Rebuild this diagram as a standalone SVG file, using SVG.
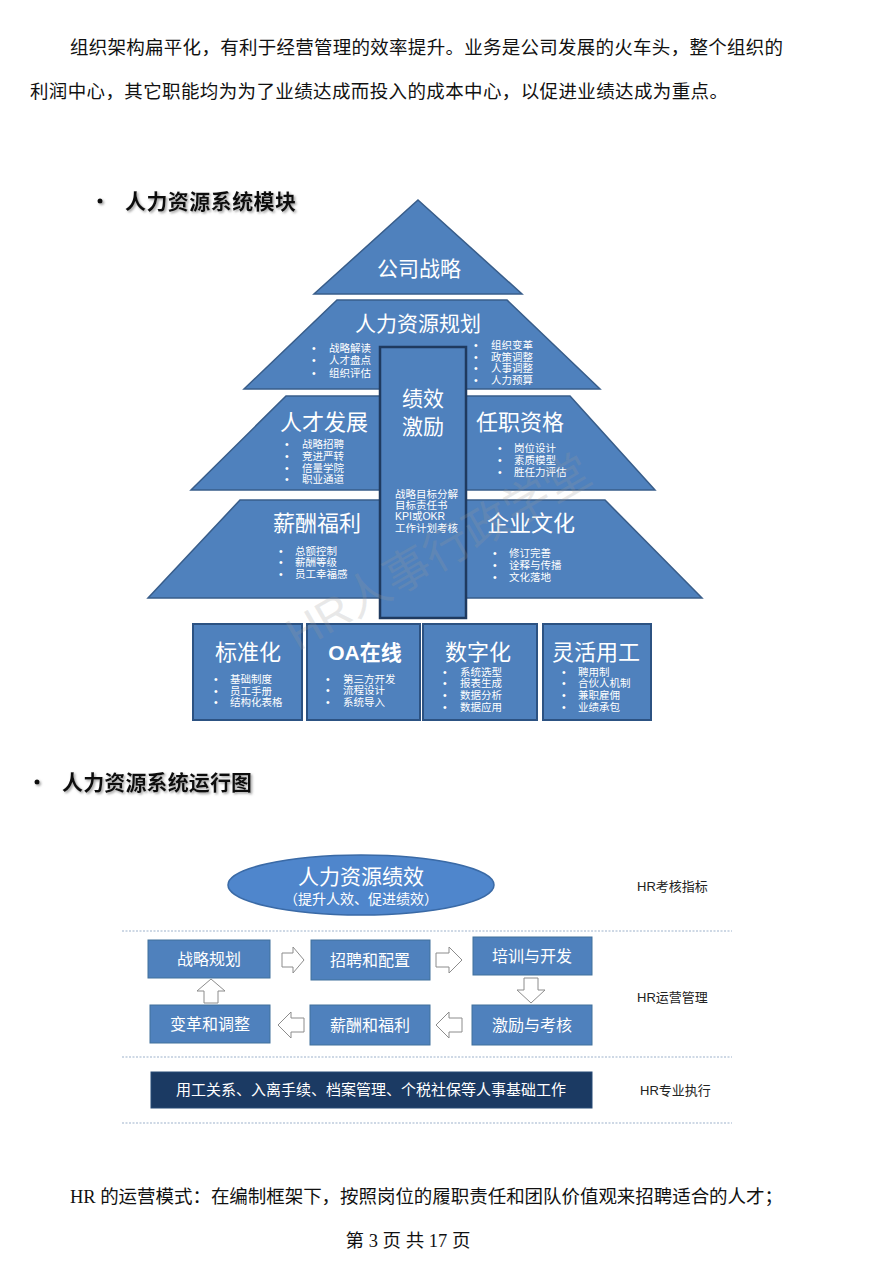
<svg xmlns="http://www.w3.org/2000/svg" width="895" height="1265" viewBox="0 0 895 1265">
<defs>
<style>
.body{font-family:"Liberation Serif","Noto Sans CJK SC",serif;font-size:18.5px;fill:#111}
.h{font-family:"Liberation Sans","Noto Sans CJK SC",sans-serif;font-size:21px;font-weight:bold;fill:#111}
.py{fill:#4F81BD;stroke:#385D8A;stroke-width:1.5}
.t{font-family:"Liberation Sans","Noto Sans CJK SC",sans-serif;fill:#fff;text-anchor:middle}
.big{font-size:21px}
.sm{font-family:"Liberation Sans","Noto Sans CJK SC",sans-serif;font-size:10.5px;fill:#fff}
.box{fill:#4F81BD;stroke:#2C5282;stroke-width:2}
.fb{fill:#4F81BD;stroke:#41719C;stroke-width:1}
.ft{font-family:"Liberation Sans","Noto Sans CJK SC",sans-serif;font-size:16px;fill:#fff;text-anchor:middle}
.ba{fill:#fff;stroke:#8C8C8C;stroke-width:1}
.lbl{font-family:"Liberation Sans","Noto Sans CJK SC",sans-serif;font-size:13px;fill:#222}
.dl{stroke:#9DB2CC;stroke-width:1.2;stroke-dasharray:2 1.5}
</style>
<filter id="sh" x="-10%" y="-30%" width="130%" height="180%">
<feDropShadow dx="1.5" dy="1.5" stdDeviation="1" flood-color="#888" flood-opacity="0.8"/>
</filter>
</defs>
<rect width="895" height="1265" fill="#fff"/>

<text class="body" x="70" y="54" textLength="713">组织架构扁平化，有利于经营管理的效率提升。业务是公司发展的火车头，整个组织的</text>
<text class="body" x="30" y="98" textLength="698">利润中心，其它职能均为为了业绩达成而投入的成本中心，以促进业绩达成为重点。</text>

<g id="heading1" filter="url(#sh)">
<circle cx="100" cy="201" r="2.5" fill="#111"/>
<text class="h" x="125" y="209" textLength="171">人力资源系统模块</text>
</g>

<g id="pyramid">
<polygon id="top" class="py" points="418,200 522,294 314,294"/>
<polygon id="layer2" class="py" points="337,300 507,300 600,389 244,389"/>
<polygon id="layer3" class="py" points="286,396 570,396 655,490 191,490"/>
<polygon id="layer4" class="py" points="240,500 605,500 702,598 148,598"/>
</g>

<g id="n-strategy"><text class="t big" x="419" y="276" font-size="20">公司战略</text></g>

<g id="n-plan">
<text class="t big" x="418" y="331">人力资源规划</text>
<g class="sm">
<text x="312" y="352">•</text><text x="329" y="352">战略解读</text>
<text x="312" y="364">•</text><text x="329" y="364">人才盘点</text>
<text x="312" y="377">•</text><text x="329" y="377">组织评估</text>
<text x="474" y="349">•</text><text x="491" y="349">组织变革</text>
<text x="474" y="361">•</text><text x="491" y="361">政策调整</text>
<text x="474" y="372">•</text><text x="491" y="372">人事调整</text>
<text x="474" y="384">•</text><text x="491" y="384">人力预算</text>
</g>
</g>

<g id="n-talent">
<text class="t" x="324" y="430" font-size="22">人才发展</text>
<g class="sm">
<text x="285" y="448">•</text><text x="302" y="448">战略招聘</text>
<text x="285" y="460">•</text><text x="302" y="460">竞进严转</text>
<text x="285" y="472">•</text><text x="302" y="472">倍量学院</text>
<text x="285" y="483">•</text><text x="302" y="483">职业通道</text>
</g>
</g>

<g id="n-qual">
<text class="t" x="520" y="430" font-size="22">任职资格</text>
<g class="sm">
<text x="498" y="452">•</text><text x="514" y="452">岗位设计</text>
<text x="498" y="464">•</text><text x="514" y="464">素质模型</text>
<text x="498" y="476">•</text><text x="514" y="476">胜任力评估</text>
</g>
</g>

<g id="n-pay">
<text class="t" x="317" y="531" font-size="22">薪酬福利</text>
<g class="sm">
<text x="279" y="555">•</text><text x="295" y="555">总额控制</text>
<text x="279" y="566">•</text><text x="295" y="566">薪酬等级</text>
<text x="279" y="578">•</text><text x="295" y="578">员工幸福感</text>
</g>
</g>

<g id="n-culture">
<text class="t" x="531" y="531" font-size="22">企业文化</text>
<g class="sm">
<text x="493" y="557">•</text><text x="509" y="557">修订完善</text>
<text x="493" y="569">•</text><text x="509" y="569">诠释与传播</text>
<text x="493" y="581">•</text><text x="509" y="581">文化落地</text>
</g>
</g>

<g id="n-perf">
<rect x="380" y="347" width="86" height="271" fill="#4F81BD" stroke="#1F3A5F" stroke-width="2.5"/>
<text class="t" x="423" y="406" font-size="21">绩效</text>
<text class="t" x="423" y="434" font-size="21">激励</text>
<g class="sm" font-size="10">
<text x="395" y="498">战略目标分解</text>
<text x="395" y="509">目标责任书</text>
<text x="395" y="520">KPI或OKR</text>
<text x="395" y="532">工作计划考核</text>
</g>
</g>

<g id="n-std">
<rect class="box" x="193" y="624" width="109" height="96"/>
<text class="t" x="248" y="660" font-size="22">标准化</text>
<g class="sm">
<text x="214" y="683">•</text><text x="230" y="683">基础制度</text>
<text x="214" y="695">•</text><text x="230" y="695">员工手册</text>
<text x="214" y="706">•</text><text x="230" y="706">结构化表格</text>
</g>
</g>
<g id="n-oa">
<rect class="box" x="307" y="624" width="113" height="96"/>
<text class="t" x="365" y="660" font-size="21" font-weight="bold">OA在线</text>
<g class="sm">
<text x="326" y="683">•</text><text x="343" y="683">第三方开发</text>
<text x="326" y="694">•</text><text x="343" y="694">流程设计</text>
<text x="326" y="706">•</text><text x="343" y="706">系统导入</text>
</g>
</g>
<g id="n-digital">
<rect class="box" x="423" y="624" width="114" height="96"/>
<text class="t" x="478" y="660" font-size="22">数字化</text>
<g class="sm">
<text x="443" y="676">•</text><text x="460" y="676">系统选型</text>
<text x="443" y="687">•</text><text x="460" y="687">报表生成</text>
<text x="443" y="699">•</text><text x="460" y="699">数据分析</text>
<text x="443" y="711">•</text><text x="460" y="711">数据应用</text>
</g>
</g>
<g id="n-flex">
<rect class="box" x="543" y="624" width="108" height="96"/>
<text class="t" x="596" y="660" font-size="22">灵活用工</text>
<g class="sm">
<text x="562" y="676">•</text><text x="578" y="676">聘用制</text>
<text x="562" y="687">•</text><text x="578" y="687">合伙人机制</text>
<text x="562" y="699">•</text><text x="578" y="699">兼职雇佣</text>
<text x="562" y="711">•</text><text x="578" y="711">业绩承包</text>
</g>
</g>

<text font-family="Liberation Sans,Noto Sans CJK SC,sans-serif" font-size="46" fill="#9a9a9a" fill-opacity="0.22" transform="translate(298,652) rotate(-30)">HR人事行政学堂</text>

<g id="heading2" filter="url(#sh)">
<circle cx="37" cy="782" r="2.5" fill="#111"/>
<text class="h" x="62" y="790" textLength="190">人力资源系统运行图</text>
</g>

<g id="n-hrperf">
<ellipse cx="361" cy="885" rx="133" ry="30" fill="#4F86CC" stroke="#3A6AA6" stroke-width="1.5"/>
<text class="t" x="361" y="884" font-size="21">人力资源绩效</text>
<text class="t" x="361" y="904" font-size="14">（提升人效、促进绩效）</text>
</g>
<text class="lbl" x="637" y="891">HR考核指标</text>
<text class="lbl" x="637" y="1002">HR运营管理</text>
<text class="lbl" x="640" y="1095">HR专业执行</text>

<g id="separators">
<line class="dl" x1="122" y1="931" x2="732" y2="931"/>
<line class="dl" x1="122" y1="1057" x2="732" y2="1057"/>
<line class="dl" x1="122" y1="1123" x2="732" y2="1123"/>
</g>

<g id="n-f1"><rect class="fb" x="148" y="940" width="122" height="38"/><text class="ft" x="209" y="965">战略规划</text></g>
<g id="n-f2"><rect class="fb" x="311" y="940" width="119" height="40"/><text class="ft" x="370" y="966">招聘和配置</text></g>
<g id="n-f3"><rect class="fb" x="473" y="937" width="119" height="38"/><text class="ft" x="532" y="962">培训与开发</text></g>
<g id="n-f4"><rect class="fb" x="472" y="1005" width="120" height="40"/><text class="ft" x="532" y="1031">激励与考核</text></g>
<g id="n-f5"><rect class="fb" x="310" y="1005" width="120" height="40"/><text class="ft" x="370" y="1031">薪酬和福利</text></g>
<g id="n-f6"><rect class="fb" x="150" y="1005" width="120" height="38"/><text class="ft" x="210" y="1030">变革和调整</text></g>

<g id="connectors">
<path class="ba" d="M282,953 L293,953 L293,947 L304,960 L293,973 L293,967 L282,967 Z"/>
<path class="ba" d="M436,953 L449,953 L449,947 L462,960 L449,973 L449,967 L436,967 Z"/>
<path class="ba" d="M524,978 L538,978 L538,990 L545,990 L531,1003 L517,990 L524,990 Z"/>
<path class="ba" d="M462,1018 L449,1018 L449,1012 L436,1025 L449,1038 L449,1032 L462,1032 Z"/>
<path class="ba" d="M304,1018 L291,1018 L291,1012 L278,1025 L291,1038 L291,1032 L304,1032 Z"/>
<path class="ba" d="M204,1003 L218,1003 L218,991 L225,991 L211,979 L197,991 L204,991 Z"/>
</g>

<g id="n-base">
<rect x="151" y="1072" width="441" height="36" fill="#1B3A63" stroke="#274A77" stroke-width="1"/>
<text class="t" x="371" y="1095" font-size="15">用工关系、入离手续、档案管理、个税社保等人事基础工作</text>
</g>

<text class="body" x="70" y="1203" textLength="713">HR 的运营模式：在编制框架下，按照岗位的履职责任和团队价值观来招聘适合的人才；</text>
<text class="body" x="408" y="1247" font-size="15" text-anchor="middle">第 3 页 共 17 页</text>
</svg>
